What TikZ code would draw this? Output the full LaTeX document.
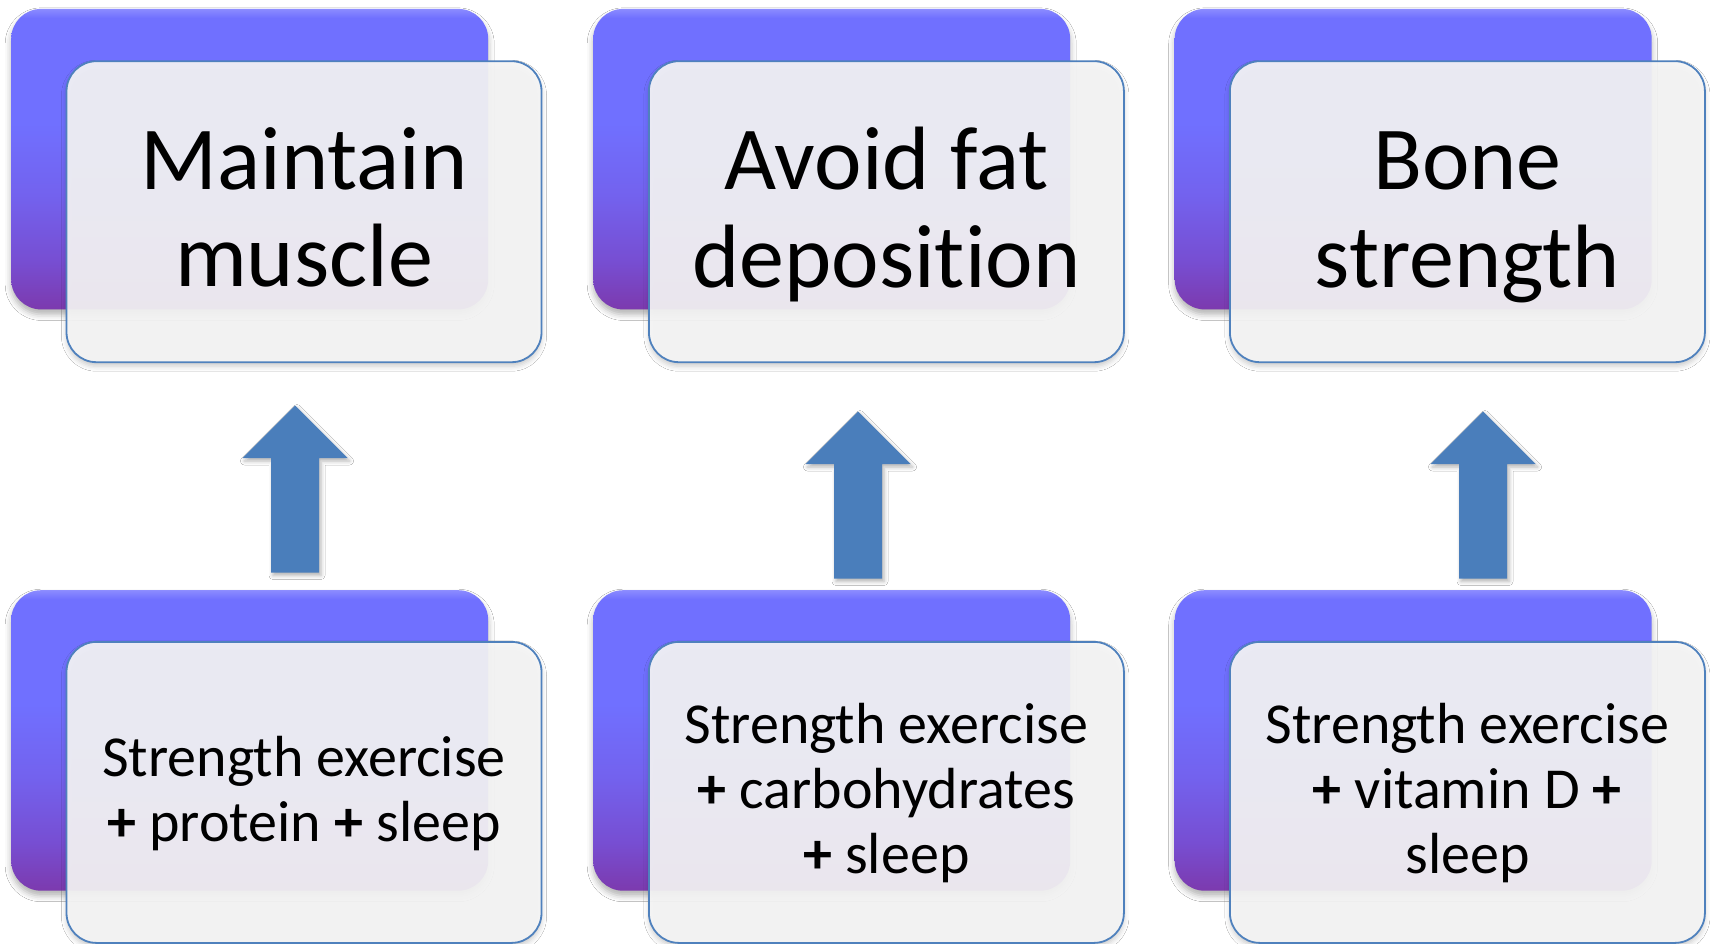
\documentclass[tikz,border=0pt]{standalone}
\usepackage{fontspec}
\setmainfont{Carlito}[Ligatures=NoCommon]
\usetikzlibrary{shadows,shadows.blur}

\definecolor{cardtop}{RGB}{112,112,255}
\definecolor{cardhi}{RGB}{140,140,255}
\definecolor{cardmidA}{RGB}{115,98,238}
\definecolor{cardmidB}{RGB}{119,78,210}
\definecolor{cardbot}{RGB}{124,58,174}
\definecolor{cardface}{RGB}{246,246,246}
\definecolor{cardframe}{RGB}{79,129,189}
\definecolor{arrowblue}{RGB}{74,126,187}

% violet-to-purple fade for the rear cards (bottom to top)
\pgfdeclareverticalshading{cardshade}{100bp}{%
  color(0bp)=(cardbot); color(25bp)=(cardbot); color(33bp)=(cardmidB);
  color(44bp)=(cardmidA); color(56bp)=(cardtop); color(73.5bp)=(cardtop);
  color(75bp)=(cardhi); color(100bp)=(cardhi)}

% heavy plus sign used between the ingredients
\newcommand{\plus}{\textbf{+}}

\begin{document}
\begin{tikzpicture}[x=1pt,y=-1pt,
  backcard/.style={shade, shading=cardshade, rounded corners=30pt,
    minimum width=477pt, minimum height=300.5pt, anchor=north west, inner sep=0pt,
    blur shadow={shadow xshift=0pt, shadow yshift=-5pt, shadow blur radius=6pt, shadow opacity=30}},
  frontcard/.style={rounded corners=30pt, draw=cardframe, line width=1.8pt,
    fill=cardface, fill opacity=0.92,
    minimum width=475pt, minimum height=301pt, anchor=north west, inner sep=0pt,
    blur shadow={shadow xshift=0pt, shadow yshift=-4pt, shadow blur radius=5pt, shadow opacity=22}},
  headtext/.style={font=\fontsize{90}{97}\selectfont, align=center, anchor=base, inner sep=0pt},
  bodytext/.style={font=\fontsize{58}{65}\selectfont, align=center, anchor=base, inner sep=0pt},
  uparrow/.pic={
    \fill[arrowblue, blur shadow={shadow xshift=2pt, shadow yshift=-3pt, shadow blur radius=4pt, shadow opacity=30}]
      (-24,0) -- (-24,-114.5) -- (-52.5,-114.5) -- (0,-167) -- (52.5,-114.5)
      -- (24,-114.5) -- (24,0) -- cycle;
  }]
\useasboundingbox[fill=white] (0,0) rectangle (1713,944);

% rear cards, top row then bottom row
\node[backcard] (rt1) at (11,8.7) {};
\node[backcard] (rt2) at (593,8.7) {};
\node[backcard] (rt3) at (1174.5,8.7) {};
\node[backcard] (rb1) at (11,590) {};
\node[backcard] (rb2) at (593,590) {};
\node[backcard] (rb3) at (1174.5,590) {};

% translucent front cards
\node[frontcard] (ft1) at (65.6,60.3) {};
\node[frontcard] (ft2) at (648,60.3) {};
\node[frontcard] (ft3) at (1229,60.3) {};
\node[frontcard] (fb1) at (65.6,641) {};
\node[frontcard] (fb2) at (648,641) {};
\node[frontcard] (fb3) at (1229,641) {};

% outcomes (anchored on the baseline of the last line)
\node[headtext] (h1) at (ft1.north |- 0,286) {Maintain\\muscle};
\node[headtext] (h2) at (ft2.north |- 0,287) {Avoid fat\\deposition};
\node[headtext] (h3) at (ft3.north |- 0,287) {Bone\\strength};

% what leads to them
\node[bodytext] (p1) at (fb1.north |- 0,841) {Strength exercise\\\plus{} protein \plus{} sleep};
\node[bodytext] (p2) at (fb2.north |- 0,873) {Strength exercise\\\plus{} carbohydrates\\\plus{} sleep};
\node[bodytext] (p3) at (fb3.north |- 0,873) {Strength exercise\\\plus{} vitamin D \plus\\sleep};

% block arrows from each cause up to its outcome
\pic (a1) at (295,572.5) {uparrow};
\pic (a2) at (858,578.5) {uparrow};
\pic (a3) at (1483,578.5) {uparrow};
\end{tikzpicture}
\end{document}
